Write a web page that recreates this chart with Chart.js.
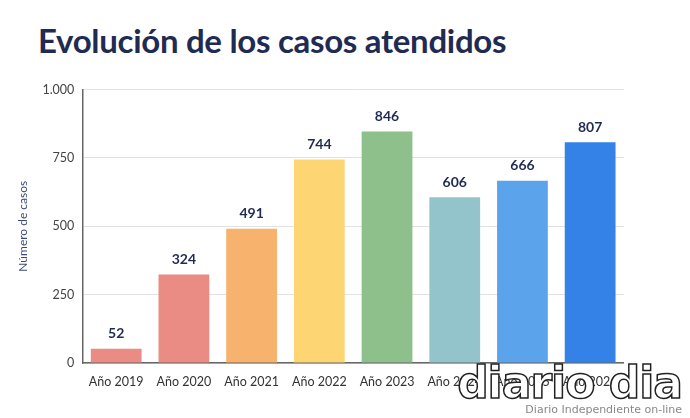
<!DOCTYPE html>
<html><head><meta charset="utf-8">
<script src="https://cdn.jsdelivr.net/npm/chart.js@4"></script>
<style>
body{margin:0;background:#fff;width:690px;height:418px;overflow:hidden;font-family:Lato,sans-serif}
#t{position:absolute;left:38px;top:20px;font-size:33px;font-weight:700;color:#1f2b52;letter-spacing:-0.3px}
#w{position:absolute;left:12px;top:74px;width:612px;height:318px}
#wm{position:absolute;right:8px;bottom:2px;text-align:right;color:#fff;font-family:'DejaVu Sans';}
#wm .a{font-size:44px;font-weight:700;-webkit-text-stroke:1.5px #222;line-height:44px;letter-spacing:-1px}
#wm .b{font-size:11px;color:#888;margin-top:-2px}
</style></head><body>
<div id="t">Evolución de los casos atendidos</div>
<div id="w"><canvas id="c"></canvas></div>
<div id="wm"><div class="a">diario dia</div><div class="b">Diario Independiente on-line</div></div>
<script>
const categories=["Año 2019","Año 2020","Año 2021","Año 2022","Año 2023","Año 2024","Año 2025","Año 2026"];
const values=[52,324,491,744,846,606,666,807];
const colors=["#EA8C84","#EA8C84","#F7B26E","#FDD673","#8DC08A","#93C4CC","#5BA4EC","#3482E8"];
const labelPlugin={id:'lbl',afterDatasetsDraw(ch){const ctx=ch.ctx;const m=ch.getDatasetMeta(0);ctx.save();ctx.font='bold 14px Lato';ctx.fillStyle='#1f2b52';ctx.textAlign='center';ctx.textBaseline='bottom';
m.data.forEach((b,i)=>ctx.fillText(values[i],b.x,b.y-8));ctx.restore();}};
new Chart(document.getElementById('c'),{type:'bar',
data:{labels:categories,datasets:[{data:values,backgroundColor:colors,categoryPercentage:0.75,barPercentage:1}]},
options:{responsive:true,maintainAspectRatio:false,animation:false,
layout:{padding:{top:4,right:0}},
plugins:{legend:{display:false},tooltip:{enabled:false}},
scales:{
x:{grid:{display:false},border:{color:'#666',width:1.5},ticks:{color:'#333',font:{family:'Lato',size:12.5}}},
y:{min:0,max:1000,ticks:{stepSize:250,color:'#444',font:{family:'Lato',size:12.5},callback:v=>v===1000?'1.000':v,padding:8},
border:{color:'#666',width:1.5},grid:{color:'#e2e2e2',borderDash:[3,3],drawTicks:false},
title:{display:true,text:'Número de casos',color:'#3a4a7a',font:{family:'Lato',size:12}}}}},
plugins:[labelPlugin]});
</script></body></html>
